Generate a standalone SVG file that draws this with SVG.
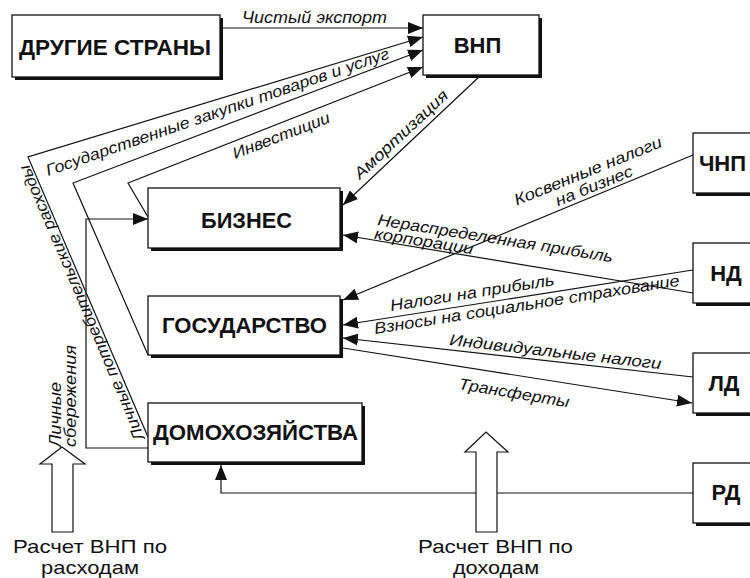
<svg xmlns="http://www.w3.org/2000/svg" width="750" height="578" viewBox="0 0 750 578">
<style>
.sh{fill:#111}
.box{fill:#fff;stroke:#111;stroke-width:1.3}
.bl{font-family:"Liberation Sans",Arial,sans-serif;font-weight:bold;font-size:22px;fill:#111;text-anchor:middle}
.lab{font-family:"Liberation Sans",Arial,sans-serif;font-style:italic;font-size:16px;fill:#111}
.cap{font-family:"Liberation Sans",Arial,sans-serif;font-size:19px;fill:#111;text-anchor:middle}
.ln{fill:none;stroke:#111;stroke-width:1.2}
.arr{marker-end:url(#ah)}
.hollow{fill:#fff;stroke:#111;stroke-width:1.2}
</style>
<defs>
<marker id="ah" markerWidth="15" markerHeight="12" refX="15" refY="6" orient="auto" markerUnits="userSpaceOnUse">
<path d="M0,0 L15,6 L0,12 Z" fill="#111"/>
</marker>
</defs>
<rect width="750" height="578" fill="#fff"/>

<g id="connectors">
<path class="ln arr" d="M220,28 L423,28"/>
<path class="ln arr" d="M148,437 L28,157 L423,37"/>
<path class="ln arr" d="M148,355 L73,183 L423,50"/>
<path class="ln arr" d="M148,217 L128,183 L423,67"/>
<path class="ln arr" d="M148,448 L86,448 L86,219 L148,219"/>
<path class="ln arr" d="M480,76 L343,205"/>
<path class="ln arr" d="M693,155 L343,300"/>
<path class="ln arr" d="M693,293 L343,235"/>
<path class="ln arr" d="M693,270 L343,325"/>
<path class="ln arr" d="M693,377 L343,338"/>
<path class="ln arr" d="M343,348 L692,403"/>
<path class="ln arr" d="M693,493 L221,493 L221,465"/>

<text class="lab" x="242" y="23" textLength="145" lengthAdjust="spacingAndGlyphs">Чистый экспорт</text>
<text class="lab" transform="translate(48,176) rotate(-19)" textLength="362" lengthAdjust="spacingAndGlyphs">Государственные закупки товаров и услуг</text>
<text class="lab" transform="translate(235,159) rotate(-21)" textLength="103" lengthAdjust="spacingAndGlyphs">Инвестиции</text>
<text class="lab" transform="translate(360,180) rotate(-43)" textLength="122" lengthAdjust="spacingAndGlyphs">Амортизация</text>
<text class="lab" transform="translate(145,438) rotate(-113)" textLength="298" lengthAdjust="spacingAndGlyphs">Личные потребительские расходы</text>
<text class="lab" transform="translate(61,447) rotate(-90)" textLength="65" lengthAdjust="spacingAndGlyphs">Личные</text>
<text class="lab" transform="translate(76,447) rotate(-90)" textLength="102" lengthAdjust="spacingAndGlyphs">сбережения</text>
<g transform="translate(590,176) rotate(-22)">
<text class="lab" x="0" y="0" text-anchor="middle" textLength="158" lengthAdjust="spacingAndGlyphs">Косвенные налоги</text>
<text class="lab" x="0" y="16" text-anchor="middle" textLength="82" lengthAdjust="spacingAndGlyphs">на бизнес</text>
</g>
<g transform="translate(377,225) rotate(9)">
<text class="lab" x="0" y="0" textLength="238" lengthAdjust="spacingAndGlyphs">Нераспределенная прибыль</text>
<text class="lab" x="-1" y="14" textLength="100" lengthAdjust="spacingAndGlyphs">корпорации</text>
</g>
<text class="lab" transform="translate(391,311) rotate(-9)" textLength="166" lengthAdjust="spacingAndGlyphs">Налоги на прибыль</text>
<text class="lab" transform="translate(375,334) rotate(-9)" textLength="309" lengthAdjust="spacingAndGlyphs">Взносы на социальное страхование</text>
<text class="lab" transform="translate(449,345) rotate(6.5)" textLength="213" lengthAdjust="spacingAndGlyphs">Индивидуальные налоги</text>
<text class="lab" transform="translate(458,389) rotate(9.5)" textLength="112" lengthAdjust="spacingAndGlyphs">Трансферты</text>
</g>

<g id="other-countries">
<rect class="sh" x="15" y="18" width="208" height="62"/>
<rect class="box" x="12" y="15" width="208" height="62"/>
<text class="bl" x="115" y="55" textLength="192" lengthAdjust="spacingAndGlyphs">ДРУГИЕ СТРАНЫ</text>
</g>
<g id="gnp">
<rect class="sh" x="426" y="18" width="116" height="60"/>
<rect class="box" x="423" y="15" width="116" height="60"/>
<text class="bl" x="477.5" y="53">ВНП</text>
</g>
<g id="business">
<rect class="sh" x="151" y="191" width="192" height="60"/>
<rect class="box" x="148" y="188" width="192" height="60"/>
<text class="bl" x="246.5" y="228" textLength="91" lengthAdjust="spacingAndGlyphs">БИЗНЕС</text>
</g>
<g id="government">
<rect class="sh" x="151" y="299" width="192" height="59"/>
<rect class="box" x="148" y="296" width="192" height="59"/>
<text class="bl" x="244.5" y="333" textLength="165" lengthAdjust="spacingAndGlyphs">ГОСУДАРСТВО</text>
</g>
<g id="households">
<rect class="sh" x="151" y="406" width="214" height="59"/>
<rect class="box" x="148" y="403" width="214" height="59"/>
<text class="bl" x="255.5" y="440" textLength="205" lengthAdjust="spacingAndGlyphs">ДОМОХОЗЯЙСТВА</text>
</g>
<g id="nnp">
<rect class="sh" x="696" y="136" width="70" height="60"/>
<rect class="box" x="693" y="133" width="70" height="60"/>
<text class="bl" x="722.5" y="171">ЧНП</text>
</g>
<g id="ni">
<rect class="sh" x="696" y="246" width="70" height="60"/>
<rect class="box" x="693" y="243" width="70" height="60"/>
<text class="bl" x="726" y="281">НД</text>
</g>
<g id="pi">
<rect class="sh" x="696" y="356" width="70" height="60"/>
<rect class="box" x="693" y="353" width="70" height="60"/>
<text class="bl" x="724" y="391">ЛД</text>
</g>
<g id="di">
<rect class="sh" x="696" y="466" width="70" height="60"/>
<rect class="box" x="693" y="463" width="70" height="60"/>
<text class="bl" x="726" y="500">РД</text>
</g>

<g id="expenditure-approach">
<path class="hollow" d="M52,532 L52,464 L40,464 L62,447 L85,464 L73,464 L73,532 Z"/>
<text class="cap" x="90" y="553" textLength="154" lengthAdjust="spacingAndGlyphs">Расчет ВНП по</text>
<text class="cap" x="90" y="574" textLength="98" lengthAdjust="spacingAndGlyphs">расходам</text>
</g>
<g id="income-approach">
<path class="hollow" d="M476,532 L476,452 L465,452 L486,432 L508,452 L497,452 L497,532 Z"/>
<text class="cap" x="495.5" y="553" textLength="155" lengthAdjust="spacingAndGlyphs">Расчет ВНП по</text>
<text class="cap" x="496" y="574" textLength="86" lengthAdjust="spacingAndGlyphs">доходам</text>
</g>
</svg>
